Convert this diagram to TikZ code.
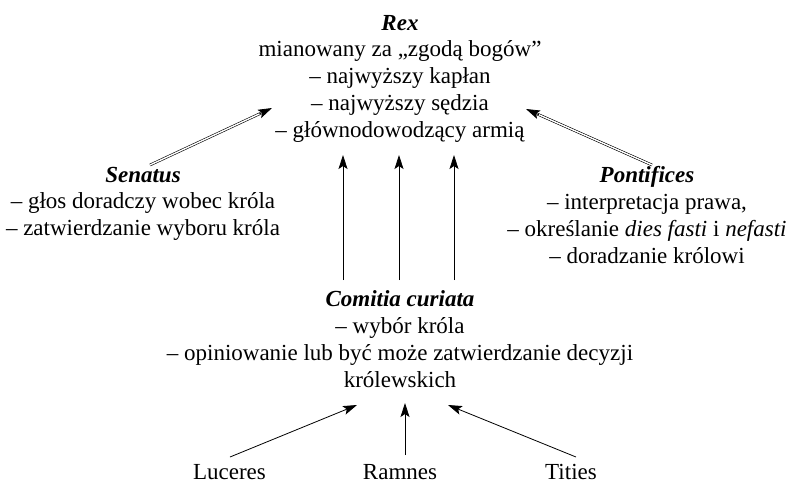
\documentclass[tikz,border=0pt]{standalone}
\usepackage{fontspec}
\setmainfont{Liberation Serif}
\usetikzlibrary{arrows.meta,calc}
\tikzset{
  blk/.style={inner sep=0pt, outer sep=0pt, align=center, anchor=base,
    font=\fontsize{23pt}{26.7pt}\selectfont},
  leaf/.style={blk, text depth=0pt},
  tip/.style={-{Stealth[length=14pt,width=9pt,inset=3pt]}, line width=0.8pt},
  dbl/.style={double, double distance=1.4pt, line width=0.6pt},
}
\begin{document}
\begin{tikzpicture}[x=1pt,y=-1pt]
\useasboundingbox (0,0) rectangle (793,483);
% anchor=base is the baseline of the last line of each block
\node[blk] (rex) at (400,137) {\textbf{\textit{Rex}}\\mianowany za „zgodą bogów”\\– najwyższy kapłan\\– najwyższy sędzia\\– głównodowodzący armią};
\node[blk] (sen) at (143,235.5) {\textbf{\textit{Senatus}}\\– głos doradczy wobec króla\\– zatwierdzanie wyboru króla};
\node[blk] (pon) at (647,263) {\textbf{\textit{Pontifices}}\\– interpretacja prawa,\\– określanie \textit{dies fasti} i \textit{nefasti}\\– doradzanie królowi};
\node[blk] (com) at (400,387) {\textbf{\textit{Comitia curiata}}\\– wybór króla\\– opiniowanie lub być może zatwierdzanie decyzji\\królewskich};
\node[leaf] (luc) at (229.5,479) {Luceres};
\node[leaf] (ram) at (400,479) {Ramnes};
\node[leaf] (tit) at (571,479) {Tities};
% coordinates for connector ends
\coordinate (s1) at (150,165); \coordinate (s2) at (272,108);
\coordinate (p1) at (652,165); \coordinate (p2) at (526,109);
\coordinate (v1a) at (343,280); \coordinate (v1b) at (343,155);
\coordinate (v2a) at (399,280); \coordinate (v2b) at (399,155);
\coordinate (v3a) at (454,280); \coordinate (v3b) at (454,155);
\coordinate (l1) at (230,457); \coordinate (l2) at (357,405);
\coordinate (r1) at (405,455); \coordinate (r2) at (405,403);
\coordinate (t1) at (576,457); \coordinate (t2) at (448,405);
% double arrows
\draw[dbl, shorten >=10pt] (s1) -- (s2);
\draw[tip] ($(s2)!14pt!(s1)$) -- (s2);
\draw[dbl, shorten >=10pt] (p1) -- (p2);
\draw[tip] ($(p2)!14pt!(p1)$) -- (p2);
% vertical arrows
\draw[tip] (v1a) -- (v1b);
\draw[tip] (v2a) -- (v2b);
\draw[tip] (v3a) -- (v3b);
% bottom arrows
\draw[tip] (l1) -- (l2);
\draw[tip] (r1) -- (r2);
\draw[tip] (t1) -- (t2);
\end{tikzpicture}
\end{document}
